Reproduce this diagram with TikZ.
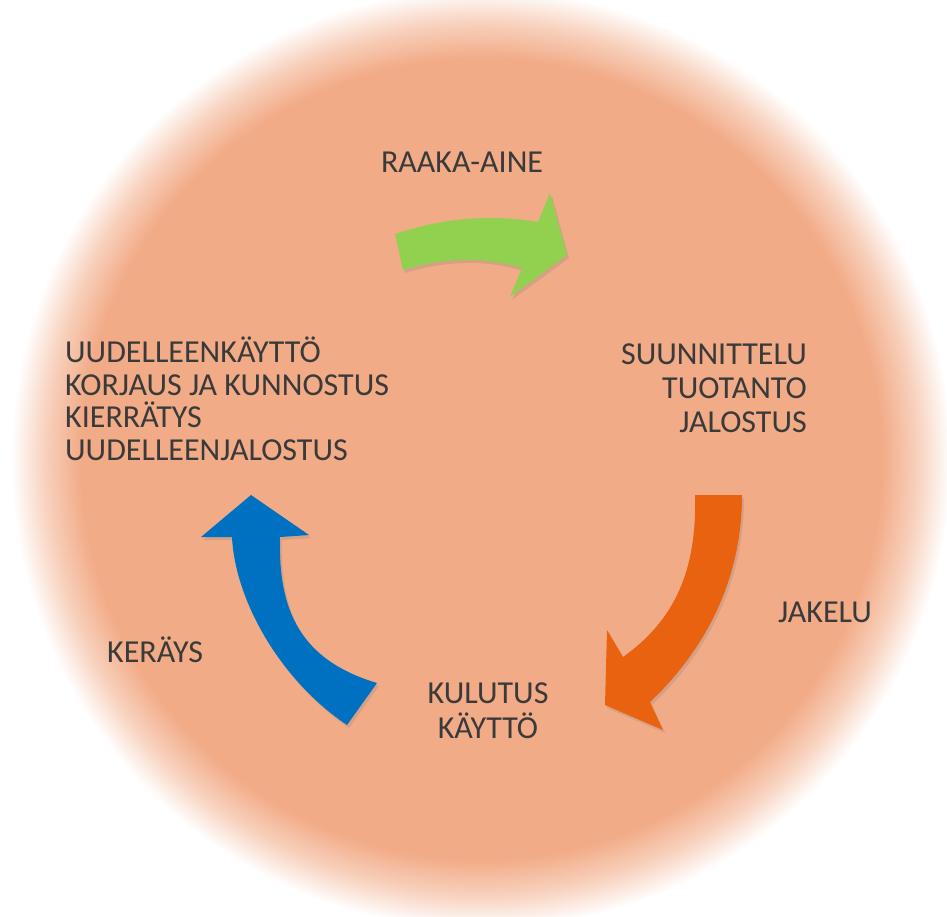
\documentclass[tikz,border=0pt]{standalone}
\usepackage{fontspec}
\setmainfont{Carlito}
\usetikzlibrary{shadows}

\definecolor{discSalmon}{HTML}{F2AB87}
\definecolor{arrGreen}{HTML}{92D050}
\definecolor{arrOrange}{HTML}{E8620F}
\definecolor{arrBlue}{HTML}{0070C0}
\definecolor{txtGrey}{HTML}{3A3A3A}

\pgfdeclareradialshading{discglow}{\pgfpoint{0bp}{0bp}}{%
  color(0bp)=(discSalmon); color(21.3bp)=(discSalmon);
  color(23.2bp)=(discSalmon!55!white); color(25bp)=(white); color(50bp)=(white)}

\begin{document}
\begin{tikzpicture}[
    x=1pt, y=-1pt,
    lbl/.style={font=\fontsize{32}{34}\selectfont, text=txtGrey, inner sep=0pt},
    blockarrow/.style={drop shadow={opacity=0.25, shadow xshift=2pt, shadow yshift=-3pt}},
]
\useasboundingbox (0,0) rectangle (947,916);
\shade[shading=discglow] (481,459) circle (470);

% the three arrows of the cycle
\fill[arrGreen, blockarrow] (395,234) .. controls (443,218) and (490,214) .. (538,222)
    -- (550,193) -- (567,255) -- (510,297) -- (522,268)
    .. controls (482,256) and (443,258) .. (403,270) -- cycle;
\fill[arrOrange, blockarrow] (695,495) -- (742,495) .. controls (742,580) and (705,650) .. (650,702)
    -- (663,730) -- (605,705) -- (607,630) -- (623,657)
    .. controls (675,620) and (697,570) .. (695,495) -- cycle;
\fill[arrBlue, blockarrow] (347,725) .. controls (280,680) and (235,600) .. (232,537)
    -- (201,537) -- (251,495) -- (309,535) -- (280,537)
    .. controls (278,610) and (300,660) .. (377,683) -- cycle;

% stages (base = last line)
\node[lbl, anchor=base] (rawmat) at (462,172.5) {RAAKA-AINE};
\node[lbl, anchor=base east, align=right] (produce) at (807,432)
    {SUUNNITTELU\\TUOTANTO\\JALOSTUS};
\node[lbl, anchor=base west] (distrib) at (778,622.5) {JAKELU};
\node[lbl, anchor=base, align=center, font=\fontsize{32}{35}\selectfont] (consume) at (488,738)
    {KULUTUS\\KÄYTTÖ};
\node[lbl, anchor=base west] (collect) at (107,662) {KERÄYS};
\node[lbl, anchor=base west, align=left, font=\fontsize{32}{32.5}\selectfont] (reuse) at (65,460)
    {UUDELLEENKÄYTTÖ\\KORJAUS JA KUNNOSTUS\\KIERRÄTYS\\UUDELLEENJALOSTUS};
\end{tikzpicture}
\end{document}
